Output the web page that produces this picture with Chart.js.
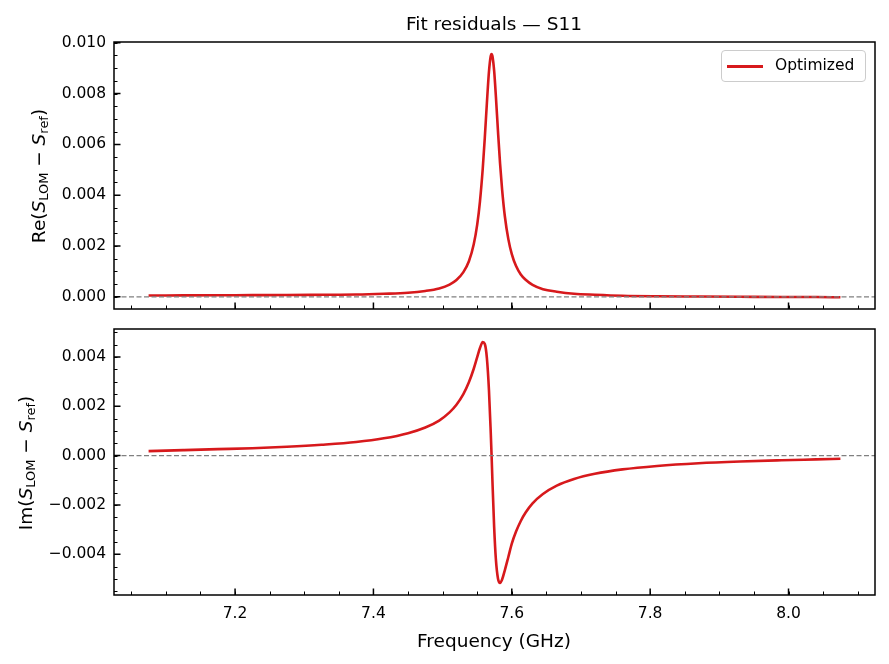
<!DOCTYPE html>
<html>
<head>
<meta charset="utf-8">
<script src="https://cdn.jsdelivr.net/npm/chart.js@4/dist/chart.umd.min.js"></script>
<style>
  body { margin: 0; width: 889px; height: 664px; position: relative; background: #fff; overflow: hidden;
         font-family: "DejaVu Sans", sans-serif; color: #000; }
  canvas { position: absolute; left: 0; }
  .lbl { position: absolute; white-space: nowrap; transform: translate(-50%, -50%); font-size: 18.5px; }
  .rot { transform: translate(-50%, -50%) rotate(-90deg); }
  .lbl i { font-style: oblique; }
  .lbl sub { font-size: 70%; vertical-align: -0.3em; line-height: 0; }
  #legend { position: absolute; left: 721px; top: 50px; width: 143px; height: 30px; border: 1px solid #ccc;
            border-radius: 4px; background: rgba(255,255,255,0.8); font-size: 15.5px; }
  #legend span.line { position: absolute; left: 5px; top: 14px; width: 36px; height: 2.6px; background: #d7191c; }
  #legend span.txt { position: absolute; left: 53px; top: 5px; }
</style>
</head>
<body>
<canvas id="reChart" width="889" height="320" style="top:0"></canvas>
<canvas id="imChart" width="889" height="344" style="top:320px"></canvas>
<div class="lbl" style="left:494px; top:23px">Fit residuals — S11</div>
<div class="lbl rot" style="left:38px; top:176px">Re(<i>S</i><sub>LOM</sub> − <i>S</i><sub>ref</sub>)</div>
<div class="lbl rot" style="left:25px; top:463px">Im(<i>S</i><sub>LOM</sub> − <i>S</i><sub>ref</sub>)</div>
<div class="lbl" style="left:494px; top:640px">Frequency (GHz)</div>
<div id="legend"><span class="line"></span><span class="txt">Optimized</span></div>
<script>
// frequency samples (GHz)
const freq = [7.075, 7.125, 7.175, 7.225, 7.275, 7.325, 7.375, 7.415, 7.45, 7.475,
              7.495, 7.51, 7.52, 7.53, 7.538, 7.545, 7.55, 7.554, 7.558, 7.561,
              7.564, 7.567, 7.5695, 7.5708, 7.572, 7.5745, 7.577, 7.58, 7.583, 7.586,
              7.59, 7.595, 7.6, 7.606, 7.613, 7.62, 7.63, 7.645, 7.665, 7.69,
              7.72, 7.76, 7.81, 7.87, 7.93, 7.99, 8.04, 8.075];

// Re(S_LOM - S_ref)
const reRes = [0.00005, 0.000055, 0.00006, 0.000065, 0.00007, 0.00008, 0.00009, 0.00012, 0.00016, 0.00023,
               0.00033, 0.00048, 0.00066, 0.00097, 0.0014, 0.00207, 0.00284, 0.00376, 0.00504, 0.00627,
               0.00763, 0.00886, 0.00947, 0.00956, 0.00948, 0.00889, 0.00789, 0.00653, 0.00526, 0.00422,
               0.00316, 0.00227, 0.00168, 0.00122, 0.00088, 0.00067, 0.00047, 0.0003, 0.0002, 0.00012,
               0.00008, 0.00004, 0.00002, 0.00001, 0.0, -0.00001, -0.00001, -0.00002];

// Im(S_LOM - S_ref)
const imRes = [0.00018, 0.00022, 0.00026, 0.0003, 0.00036, 0.00044, 0.00055, 0.0007, 0.00091, 0.00114,
               0.00142, 0.00175, 0.00206, 0.00249, 0.00297, 0.00352, 0.00399, 0.00436, 0.0046, 0.00452,
               0.00395, 0.00265, 0.00099, 0.0, -0.00102, -0.0029, -0.00421, -0.00498, -0.00516, -0.00502,
               -0.00464, -0.00411, -0.00357, -0.00309, -0.00265, -0.00231, -0.00194, -0.00156, -0.00122, -0.00095,
               -0.00074, -0.00056, -0.00042, -0.00031, -0.00024, -0.00019, -0.000155, -0.00013];

const seriesLabel = 'Optimized';
const xTicksMajor = 0.2, xTicksMinor = 0.05;
const yTicksMajor = 0.002, yTicksMinor = 0.0005;

Chart.defaults.font.family = '"DejaVu Sans", sans-serif';
Chart.defaults.font.size = 15.5;
Chart.defaults.color = '#000';

// zero line, inward ticks and the frame, drawn from the chart's own scales
const axesDeco = {
    id: 'axesDeco',
    afterDatasetsDraw(chart) {
        const ctx = chart.ctx;
        const a = chart.chartArea;
        const xs = chart.scales.x, ys = chart.scales.y;
        ctx.save();

        const y0 = ys.getPixelForValue(0);
        ctx.strokeStyle = '#808080';
        ctx.lineWidth = 1.2;
        ctx.setLineDash([5, 2.5]);
        ctx.beginPath();
        ctx.moveTo(a.left, y0);
        ctx.lineTo(a.right, y0);
        ctx.stroke();
        ctx.setLineDash([]);

        ctx.strokeStyle = '#000';
        const minorVals = (scale, step) => {
            const out = [];
            for (let k = Math.ceil(scale.min / step - 1e-9); k * step <= scale.max + 1e-12; k++) out.push(k * step);
            return out;
        };
        // minor
        ctx.lineWidth = 1;
        ctx.beginPath();
        minorVals(xs, xTicksMinor).forEach(v => {
            const px = Math.round(xs.getPixelForValue(v)) + 0.5;
            ctx.moveTo(px, a.bottom); ctx.lineTo(px, a.bottom - 3.5);
        });
        minorVals(ys, yTicksMinor).forEach(v => {
            const py = Math.round(ys.getPixelForValue(v)) + 0.5;
            ctx.moveTo(a.left, py); ctx.lineTo(a.left + 3.5, py);
        });
        ctx.stroke();
        // major
        ctx.lineWidth = 1.5;
        ctx.beginPath();
        xs.ticks.forEach(t => {
            const px = xs.getPixelForValue(t.value);
            ctx.moveTo(px, a.bottom); ctx.lineTo(px, a.bottom - 6.5);
        });
        ys.ticks.forEach(t => {
            const py = ys.getPixelForValue(t.value);
            ctx.moveTo(a.left, py); ctx.lineTo(a.left + 6.5, py);
        });
        ctx.stroke();

        ctx.lineWidth = 1.5;
        ctx.strokeRect(a.left, a.top, a.right - a.left, a.bottom - a.top);
        ctx.restore();
    }
};

function fmt(v) {
    const s = Math.abs(v) < 1e-12 ? '0.000' : v.toFixed(3);
    return s.replace('-', '\u2212');
}

function noPad(s) {
    s.paddingTop = 0; s.paddingBottom = 0; s.paddingLeft = 0; s.paddingRight = 0;
}

function makeChart(id, values, yMin, yMax, topPad, xHeight, showX) {
    const ctx = document.getElementById(id).getContext('2d');
    return new Chart(ctx, {
        type: 'line',
        data: {
            datasets: [{
                label: seriesLabel,
                data: freq.map((f, i) => ({ x: f, y: values[i] })),
                borderColor: '#d7191c',
                borderWidth: 2.6,
                pointRadius: 0,
                fill: false,
                cubicInterpolationMode: 'monotone'
            }]
        },
        options: {
            responsive: false,
            animation: false,
            devicePixelRatio: 1,
            layout: { padding: { left: 0, right: 14, top: topPad, bottom: 0 } },
            plugins: { legend: { display: false }, tooltip: { enabled: false } },
            scales: {
                x: {
                    type: 'linear',
                    min: 7.025,
                    max: 8.125,
                    grid: { display: false, drawTicks: false },
                    border: { display: false },
                    ticks: {
                        display: showX,
                        stepSize: xTicksMajor,
                        includeBounds: false,
                        maxRotation: 0,
                        padding: 10,
                        callback: v => v.toFixed(1)
                    },
                    afterFit: s => { s.height = xHeight; noPad(s); }
                },
                y: {
                    min: yMin,
                    max: yMax,
                    grid: { display: false, drawTicks: false },
                    border: { display: false },
                    ticks: {
                        stepSize: yTicksMajor,
                        includeBounds: false,
                        padding: 8,
                        callback: v => fmt(v)
                    },
                    afterFit: s => { s.width = 114; noPad(s); }
                }
            }
        },
        plugins: [axesDeco]
    });
}

makeChart('reChart', reRes, -0.00048, 0.01003, 42, 11, false);
makeChart('imChart', imRes, -0.00565, 0.00513, 9, 69, true);
</script>
</body>
</html>
